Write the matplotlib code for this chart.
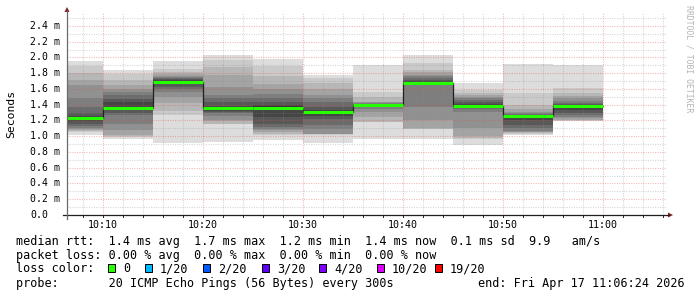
import matplotlib
matplotlib.use("Agg")
import matplotlib.pyplot as plt
from matplotlib.patches import Rectangle, Polygon
from matplotlib.lines import Line2D
import matplotlib.transforms as mtransforms

# 5 minute bins, x in minutes after 10:00
bin_starts = [5, 10, 15, 20, 25, 30, 35, 40, 45, 50, 55]
bin_width = 5

# median rtt per bin (ms)
medians = [1.232, 1.355, 1.693, 1.355, 1.359, 1.312, 1.397, 1.68, 1.388, 1.257, 1.38]

# the 20 sorted ping times of each bin (ms)
ping_1005 = [1.02, 1.06, 1.07, 1.08, 1.09, 1.10, 1.13, 1.16, 1.19, 1.22,
             1.245, 1.26, 1.29, 1.37, 1.48, 1.65, 1.72, 1.80, 1.89, 1.956]
ping_1010 = [0.97, 0.99, 1.00, 1.02, 1.08, 1.16, 1.27, 1.30, 1.33, 1.34,
             1.37, 1.43, 1.47, 1.52, 1.56, 1.60, 1.65, 1.72, 1.79, 1.84]
ping_1015 = [0.92, 1.27, 1.32, 1.42, 1.50, 1.56, 1.60, 1.625, 1.66, 1.685,
             1.705, 1.72, 1.73, 1.74, 1.75, 1.77, 1.79, 1.82, 1.86, 1.956]
ping_1020 = [0.93, 1.155, 1.16, 1.19, 1.21, 1.26, 1.30, 1.31, 1.32, 1.34,
             1.37, 1.39, 1.43, 1.48, 1.52, 1.63, 1.78, 1.88, 1.97, 2.03]
ping_1025 = [0.95, 1.01, 1.03, 1.05, 1.075, 1.09, 1.12, 1.16, 1.25, 1.33,
             1.38, 1.40, 1.43, 1.48, 1.54, 1.60, 1.66, 1.76, 1.89, 1.98]
ping_1030 = [0.92, 1.02, 1.025, 1.03, 1.03, 1.09, 1.14, 1.22, 1.26, 1.30,
             1.32, 1.33, 1.37, 1.43, 1.48, 1.52, 1.60, 1.67, 1.74, 1.78]
ping_1035 = [0.96, 1.18, 1.185, 1.25, 1.31, 1.35, 1.38, 1.385, 1.39, 1.395,
             1.40, 1.405, 1.41, 1.415, 1.42, 1.43, 1.44, 1.50, 1.566, 1.905]
ping_1040 = [0.97, 1.09, 1.095, 1.10, 1.21, 1.375, 1.655, 1.66, 1.665, 1.67,
             1.69, 1.70, 1.72, 1.74, 1.76, 1.78, 1.81, 1.84, 1.93, 2.03]
ping_1045 = [0.89, 0.97, 0.98, 1.00, 1.10, 1.31, 1.34, 1.36, 1.37, 1.38,
             1.395, 1.41, 1.43, 1.46, 1.48, 1.50, 1.52, 1.555, 1.59, 1.672]
ping_1050 = [1.016, 1.03, 1.04, 1.05, 1.06, 1.07, 1.10, 1.14, 1.20, 1.25,
             1.265, 1.27, 1.275, 1.285, 1.30, 1.31, 1.35, 1.40, 1.545, 1.917]
ping_1055 = [1.19, 1.195, 1.20, 1.21, 1.23, 1.25, 1.27, 1.29, 1.33, 1.37,
             1.39, 1.40, 1.41, 1.42, 1.45, 1.48, 1.51, 1.55, 1.61, 1.905]
pings = [ping_1005, ping_1010, ping_1015, ping_1020, ping_1025, ping_1030,
         ping_1035, ping_1040, ping_1045, ping_1050, ping_1055]

x_ticks = [10, 20, 30, 40, 50, 60]
x_labels = ["10:10", "10:20", "10:30", "10:40", "10:50", "11:00"]
y_ticks = [0.0, 0.2, 0.4, 0.6, 0.8, 1.0, 1.2, 1.4, 1.6, 1.8, 2.0, 2.2, 2.4]
y_labels = ["0.0", "0.2 m", "0.4 m", "0.6 m", "0.8 m", "1.0 m", "1.2 m",
            "1.4 m", "1.6 m", "1.8 m", "2.0 m", "2.2 m", "2.4 m"]

loss_labels = ["0", "1/20", "2/20", "3/20", "4/20", "10/20", "19/20"]
loss_colors = ["#26ff00", "#00b8ff", "#0059ff", "#5e00ff", "#7e00ff", "#dd00ff", "#ff0000"]

stats_rtt = "median rtt:  1.4 ms avg  1.7 ms max  1.2 ms min  1.4 ms now  0.1 ms sd  9.9   am/s"
stats_loss = "packet loss: 0.00 % avg  0.00 % max  0.00 % min  0.00 % now"
probe_txt = "probe:       20 ICMP Echo Pings (56 Bytes) every 300s"
end_txt = "end: Fri Apr 17 11:06:24 2026"

W, H = 697, 297
MONO = "DejaVu Sans Mono"


def fx(x):
    return x / W


def fy(y):
    return 1 - y / H


plt.rcParams["lines.scale_dashes"] = False

fig = plt.figure(figsize=(W / 100, H / 100), dpi=100)
fig.patch.set_facecolor("white")
ax = fig.add_axes([fx(67), fy(215), 600 / W, (215 - 13) / H])
ax.set_xlim(6.4, 66.4)
ax.set_ylim(0, 2.565)
for s in ax.spines.values():
    s.set_visible(False)

# smoke: 10 nested layers per bin, light outside, dark near the median
half = 10
for i in range(half):
    g = int(190 / half * (half - (i + 1))) + 50
    col = "#%02x%02x%02x" % (g, g, g)
    lows = [p[i] for p in pings]
    highs = [p[19 - i] for p in pings]
    ax.bar(bin_starts, [h - l for h, l in zip(highs, lows)], bottom=lows,
           width=bin_width, align="edge", color=col, linewidth=0, zorder=1)

# dotted grid drawn over the smoke (rrdtool style)
dots = (0, (0.72, 1.0))
minor_col = (0.56, 0.56, 0.56, 0.38)
major_col = (0.87, 0.31, 0.31, 0.42)
for m in range(8, 67, 2):
    if m % 10:
        ax.axvline(m, color=minor_col, lw=0.8, ls=dots, zorder=3)
for v in [k / 10 for k in range(1, 26, 2)]:
    ax.axhline(v, color=minor_col, lw=0.8, ls=dots, zorder=3)
for m in x_ticks:
    ax.axvline(m, color=major_col, lw=0.8, ls=dots, zorder=3)
for v in y_ticks[1:]:
    ax.axhline(v, color=major_col, lw=0.8, ls=dots, zorder=3)

# median line: black steps, loss coloured segments
edges = bin_starts + [bin_starts[-1] + bin_width]
ax.stairs(medians, edges, baseline=None, color="#202020", lw=0.9, zorder=4)
ax.hlines(medians, bin_starts, [b + bin_width for b in bin_starts],
          colors=loss_colors[0], lw=2.2, zorder=5, capstyle="butt")

ax.set_xticks([])
ax.set_yticks([])

# axes lines and arrows
fig.add_artist(Line2D([fx(63), fx(669)], [fy(215), fy(215)], color="#1f1f1f", lw=0.9))
fig.add_artist(Line2D([fx(67), fx(67)], [fy(219), fy(11)], color="#6a6a6a", lw=0.9))
fig.add_artist(Polygon([(fx(668), fy(212.5)), (fx(668), fy(217.5)), (fx(673), fy(215))],
                       closed=True, color="#801f1f", lw=0))
fig.add_artist(Polygon([(fx(64.5), fy(12)), (fx(69.5), fy(12)), (fx(67), fy(7))],
                       closed=True, color="#801f1f", lw=0))

# small ticks under the x axis
trans_x = mtransforms.blended_transform_factory(ax.transData, fig.transFigure)
for m in range(8, 67, 2):
    fig.add_artist(Line2D([m, m], [fy(215), fy(217)], transform=trans_x,
                          color="#1f1f1f", lw=0.7))

for m, lab in zip(x_ticks, x_labels):
    fig.text(m, fy(224.5), lab, transform=trans_x, ha="center", va="center",
             family=MONO, fontsize=7.2, color="black")

trans_y = mtransforms.blended_transform_factory(fig.transFigure, ax.transData)
for v, lab in zip(y_ticks, y_labels):
    fig.text(fx(30), v, lab, transform=trans_y, ha="left", va="center",
             family=MONO, fontsize=7.1, color="black")

fig.text(fx(11), fy(114), "Seconds", rotation=90, ha="center", va="center",
         family=MONO, fontsize=8.2, color="black")
fig.text(fx(689), fy(5), "RRDTOOL / TOBI OETIKER", rotation=270, ha="center", va="top",
         family=MONO, fontsize=5.9, color="#b4b4b4")

# legend block
fs = 8.5
fig.text(fx(16), fy(244.5), stats_rtt, family=MONO, fontsize=fs, va="baseline")
fig.text(fx(16), fy(258.5), stats_loss, family=MONO, fontsize=fs, va="baseline")
fig.text(fx(16), fy(272.5), "loss color:", family=MONO, fontsize=fs, va="baseline")
box_x = [108, 145, 203, 262, 319, 377, 435]
for bx, lab, col in zip(box_x, loss_labels, loss_colors):
    fig.add_artist(Rectangle((fx(bx), fy(271.5)), 7.3 / W, 7.3 / H, facecolor=col,
                             edgecolor="black", lw=0.7))
    fig.text(fx(bx + 15), fy(272.5), lab, family=MONO, fontsize=fs, va="baseline")
fig.text(fx(16), fy(286.5), probe_txt, family=MONO, fontsize=fs, va="baseline")
fig.text(fx(478), fy(286.5), end_txt, family=MONO, fontsize=fs, va="baseline")

fig.savefig("out.png", dpi=100, facecolor="white")
